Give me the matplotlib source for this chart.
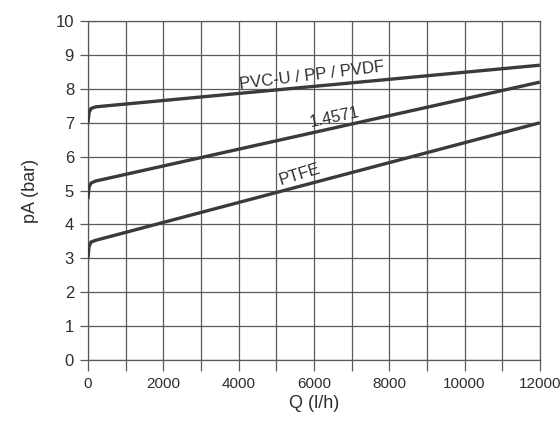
import matplotlib
matplotlib.use("Agg")
import matplotlib.pyplot as plt

plt.rcParams['font.family'] = ['Liberation Sans', 'DejaVu Sans']

q_pvc = [0, 30, 80, 200, 12000]
p_pvc = [7.0, 7.3, 7.42, 7.47, 8.7]
q_ss = [0, 30, 80, 200, 12000]
p_ss = [4.75, 5.1, 5.22, 5.28, 8.2]
q_ptfe = [0, 30, 80, 200, 12000]
p_ptfe = [3.0, 3.35, 3.48, 3.53, 7.0]

labels = ["PVC-U / PP / PVDF", "1.4571", "PTFE"]
xticks = [0, 2000, 4000, 6000, 8000, 10000, 12000]
yticks = list(range(0, 11))

fig = plt.figure(figsize=(5.6, 4.23), dpi=100)
ax = fig.add_axes([0.157, 0.149, 0.807, 0.801])

lc = '#3a3a3a'
tc = '#2e2e2e'
for q, p in [(q_pvc, p_pvc), (q_ss, p_ss), (q_ptfe, p_ptfe)]:
    ax.plot(q, p, color=lc, lw=2.4, solid_capstyle='butt', zorder=3)

ax.set_xlim(0, 12000)
ax.set_ylim(0, 10)
ax.set_xticks(range(0, 12001, 1000))
ax.set_xticklabels([str(v) if v in xticks else '' for v in range(0, 12001, 1000)])
ax.set_yticks(yticks)
ax.set_yticklabels([str(v) for v in yticks])
ax.grid(True, color='#5a5a5a', lw=0.9)
for s in ax.spines.values():
    s.set_color('#5a5a5a')
    s.set_linewidth(0.9)
ax.tick_params(axis='both', color='#5a5a5a', width=0.9, labelsize=11, colors=tc, pad=4)
ax.tick_params(axis='y', labelsize=12)
ax.tick_params(axis='x', direction='out', length=8)
ax.tick_params(axis='y', direction='out', length=6)
ax.set_xlabel("Q (l/h)", fontsize=13, color=tc, labelpad=3)
ax.set_ylabel("pA (bar)", fontsize=13, color=tc, labelpad=12)

ax.text(5950, 8.38, labels[0], rotation=7, fontsize=12, color=tc, ha='center', va='center')
ax.text(6560, 7.17, labels[1], rotation=12, fontsize=12, color=tc, ha='center', va='center')
ax.text(5630, 5.46, labels[2], rotation=17, fontsize=12, color=tc, ha='center', va='center')

fig.savefig("out.png", dpi=100)
